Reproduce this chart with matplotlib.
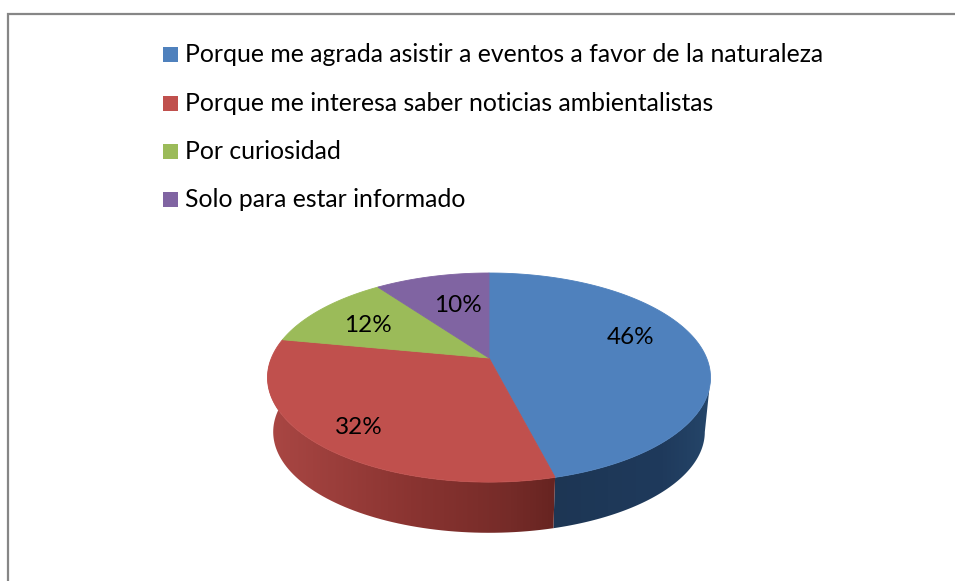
import numpy as np
import matplotlib
matplotlib.use('Agg')
import matplotlib.pyplot as plt
from matplotlib.patches import Polygon, Rectangle

# datos del grafico
categorias = ['Porque me agrada asistir a eventos a favor de la naturaleza',
              'Porque me interesa saber noticias ambientalistas',
              'Por curiosidad',
              'Solo para estar informado']
valores = [46, 32, 12, 10]
colores = ['#4F81BD', '#C0504D', '#9BBB59', '#8064A2']

plt.rcParams['font.family'] = ['Lato', 'DejaVu Sans']

fig = plt.figure(figsize=(9.55, 5.81), dpi=100)
ax = fig.add_axes([0, 0, 1, 1])
ax.set_xlim(0, 955)
ax.set_ylim(581, 0)
ax.axis('off')

# marco (solo arriba e izquierda)
ax.plot([8.2, 8.2, 955], [581, 14.2, 14.2], color='#868686', lw=1.6, solid_joinstyle='miter')


def proyectar(theta, cx=489, cy=358, a=217.6, b=100.9, k=0.187):
    # circulo en perspectiva, theta desde arriba en sentido horario
    u = np.sin(theta)
    v = np.cos(theta)
    d = 1 + k * v
    return cx + a * u / d, cy - b * v / d


def borde_abajo(theta):
    return proyectar(theta, cy=413, a=212, b=97.4)


# limites de cada porcion
acum = np.cumsum([0] + valores) / sum(valores) * 2 * np.pi

# lado de la torta, con degradado (de izquierda a derecha)
lados = [(np.pi / 2 + 0.19, acum[1], [(0.0, '#1d3654'), (0.7, '#1f3a5c'), (1.0, '#25466a')]),
         (acum[1], 3 * np.pi / 2 + 0.19, [(0.0, '#aa4744'), (0.5, '#8a3431'), (0.85, '#752b28'), (1.0, '#672421')])]
for t0, t1, paradas in lados:
    th = np.linspace(t0, t1, 80)
    xs, ys = proyectar(th)
    xb, yb = borde_abajo(th)
    poli = Polygon(np.vstack([np.column_stack([xs, ys]), np.column_stack([xb, yb])[::-1]]),
                   closed=True, fc='none', ec='none')
    ax.add_patch(poli)
    x0, x1 = min(xs.min(), xb.min()), max(xs.max(), xb.max())
    pos = [p[0] for p in paradas]
    rgb = np.array([matplotlib.colors.to_rgb(p[1]) for p in paradas])
    t = np.linspace(0, 1, 200)
    img = np.stack([np.interp(t, pos, rgb[:, i]) for i in range(3)], axis=-1)[None, :, :]
    im = ax.imshow(img, extent=[x0, x1, 540, 360], aspect='auto', zorder=1)
    im.set_clip_path(poli)
ax.set_xlim(0, 955)
ax.set_ylim(581, 0)

# cara superior
for i, color in enumerate(colores):
    th = np.linspace(acum[i], acum[i + 1], 120)
    xs, ys = proyectar(th)
    pts = np.vstack([[489, 358], np.column_stack([xs, ys])])
    ax.add_patch(Polygon(pts, closed=True, fc=color, ec=color, lw=0.6, zorder=2))

# etiquetas de porcentaje
pos_etiquetas = [(631, 337), (359, 428), (368, 325), (458, 306)]
for v, (x, y) in zip(valores, pos_etiquetas):
    ax.text(x, y, f'{v}%', ha='center', va='center', fontsize=17.5, color='black', zorder=3)

# leyenda
pos_leyenda = [54.5, 103.5, 151.5, 199.5]
for nombre, color, y in zip(categorias, colores, pos_leyenda):
    ax.add_patch(Rectangle((163, y - 8), 15, 15, fc=color, ec='none'))
    ax.text(185, y, nombre, ha='left', va='center', fontsize=17.85, color='black')

fig.savefig('out.png', dpi=100)
